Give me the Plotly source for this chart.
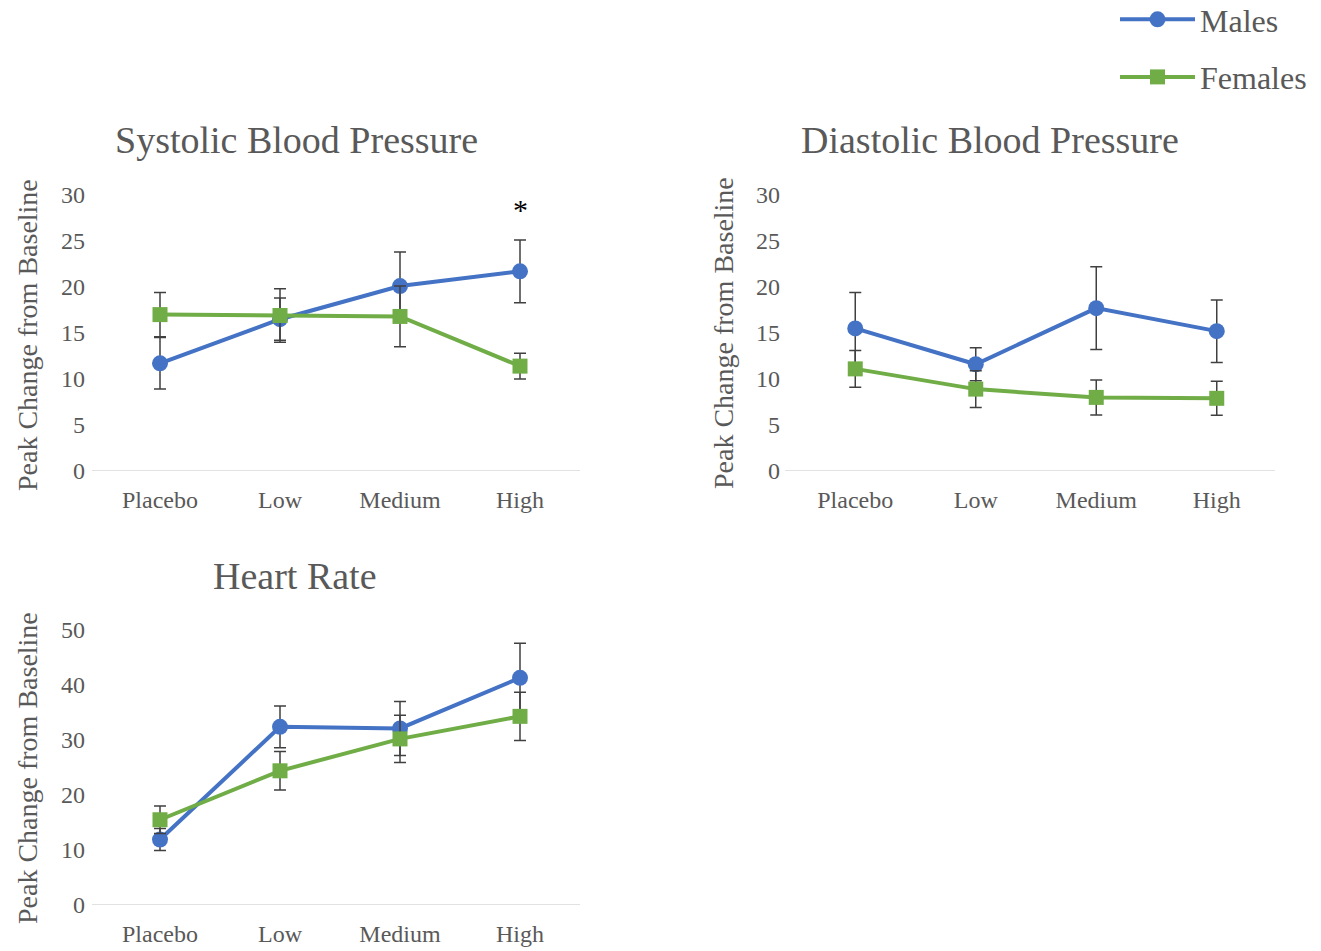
import plotly.graph_objects as go

categories = ["Placebo", "Low", "Medium", "High"]

sbp_males = [11.7, 16.5, 20.1, 21.7]
sbp_males_err = [2.8, 2.3, 3.7, 3.4]
sbp_females = [17.0, 16.9, 16.8, 11.4]
sbp_females_err = [2.4, 2.9, 3.3, 1.4]

dbp_males = [15.5, 11.6, 17.7, 15.2]
dbp_males_err = [3.9, 1.8, 4.5, 3.4]
dbp_females = [11.1, 8.9, 8.0, 7.9]
dbp_females_err = [2.0, 2.0, 1.9, 1.85]

hr_males = [11.9, 32.4, 32.1, 41.3]
hr_males_err = [2.0, 3.8, 4.9, 6.3]
hr_females = [15.5, 24.4, 30.2, 34.3]
hr_females_err = [2.5, 3.5, 4.3, 4.4]

panel_titles = ["Systolic Blood Pressure", "Diastolic Blood Pressure", "Heart Rate"]
y_title = "Peak Change from Baseline"
sbp_ticks = [0, 5, 10, 15, 20, 25, 30]
hr_ticks = [0, 10, 20, 30, 40, 50]

BLUE = "#4472C4"
GREEN = "#70AD47"
ERR = "#404040"
TXT = "#595959"
FONT = "Liberation Serif"
W, H = 1321, 951

fig = go.Figure()

panels = [
    ("x", "y", sbp_males, sbp_males_err, sbp_females, sbp_females_err),
    ("x2", "y2", dbp_males, dbp_males_err, dbp_females, dbp_females_err),
    ("x3", "y3", hr_males, hr_males_err, hr_females, hr_females_err),
]

for i, (xa, ya, m, me, f, fe) in enumerate(panels):
    fig.add_trace(go.Scatter(
        x=categories, y=m, xaxis=xa, yaxis=ya, name="Males",
        mode="lines+markers", legendgroup="Males", showlegend=(i == 0),
        line=dict(color=BLUE, width=4),
        marker=dict(symbol="circle", size=16, color=BLUE),
        error_y=dict(type="data", array=me, color=ERR, thickness=1.5, width=6),
        cliponaxis=False,
    ))
    fig.add_trace(go.Scatter(
        x=categories, y=f, xaxis=xa, yaxis=ya, name="Females",
        mode="lines+markers", legendgroup="Females", showlegend=(i == 0),
        line=dict(color=GREEN, width=4),
        marker=dict(symbol="square", size=15, color=GREEN),
        error_y=dict(type="data", array=fe, color=ERR, thickness=1.5, width=6),
        cliponaxis=False,
    ))

def px_x(p):
    return p / W

def px_y(p):
    return 1 - p / H

xcommon = dict(
    type="category", range=[-0.5, 3.5], showgrid=False, zeroline=False,
    showline=False, ticks="", tickfont=dict(family=FONT, size=24, color=TXT),
    ticklabelstandoff=12, fixedrange=True,
)
ycommon = dict(
    showgrid=False, zeroline=False, showline=False, ticks="",
    tickfont=dict(family=FONT, size=24, color=TXT), ticklabelstandoff=14,
)

fig.update_layout(
    width=W, height=H,
    margin=dict(l=0, r=0, t=0, b=0, autoexpand=False),
    paper_bgcolor="white", plot_bgcolor="white",
    font=dict(family=FONT, color=TXT),
    xaxis=dict(domain=[px_x(100), px_x(580)], anchor="y", **xcommon),
    yaxis=dict(domain=[px_y(471), px_y(195)], anchor="x", range=[0, 30],
               tickvals=sbp_ticks, **ycommon),
    xaxis2=dict(domain=[px_x(795), px_x(1277)], anchor="y2", **xcommon),
    yaxis2=dict(domain=[px_y(471), px_y(195)], anchor="x2", range=[0, 30],
                tickvals=sbp_ticks, **ycommon),
    xaxis3=dict(domain=[px_x(100), px_x(580)], anchor="y3", **xcommon),
    yaxis3=dict(domain=[px_y(905), px_y(630)], anchor="x3", range=[0, 50],
                tickvals=hr_ticks, **ycommon),
    legend=dict(
        x=px_x(1312), y=1 + 8 / H, xanchor="right", yanchor="top",
        font=dict(family=FONT, size=32, color=TXT),
        traceorder="grouped", tracegroupgap=13,
        itemwidth=75, bgcolor="rgba(0,0,0,0)",
    ),
    showlegend=True,
)

# baseline axis lines
shapes = []
for xa, ya, x0, x1 in [("x", "y", 92, 580), ("x2", "y2", 785, 1275), ("x3", "y3", 92, 580)]:
    shapes.append(dict(type="line", xref="paper", yref=ya, x0=px_x(x0), x1=px_x(x1),
                       y0=0, y1=0, line=dict(color="#D9D9D9", width=1.5), layer="below"))
fig.update_layout(shapes=shapes)

def ann(text, x, y, size, angle=0, color=TXT):
    return dict(text=text, x=px_x(x), y=px_y(y), xref="paper", yref="paper",
                xanchor="center", yanchor="middle", textangle=angle,
                showarrow=False, font=dict(family=FONT, size=size, color=color))

annotations = [
    ann(panel_titles[0], 296, 140, 38),
    ann(panel_titles[1], 990, 140, 38),
    ann(panel_titles[2], 295, 576, 38),
    ann(y_title, 27, 335, 28, -90),
    ann(y_title, 723, 333, 28, -90),
    ann(y_title, 27, 768, 28, -90),
    dict(text="*", x="High", y=28.4, xref="x", yref="y", showarrow=False,
         xanchor="center", yanchor="middle",
         font=dict(family=FONT, size=30, color="black")),
]
fig.update_layout(annotations=annotations)

fig.write_html("out.html")
